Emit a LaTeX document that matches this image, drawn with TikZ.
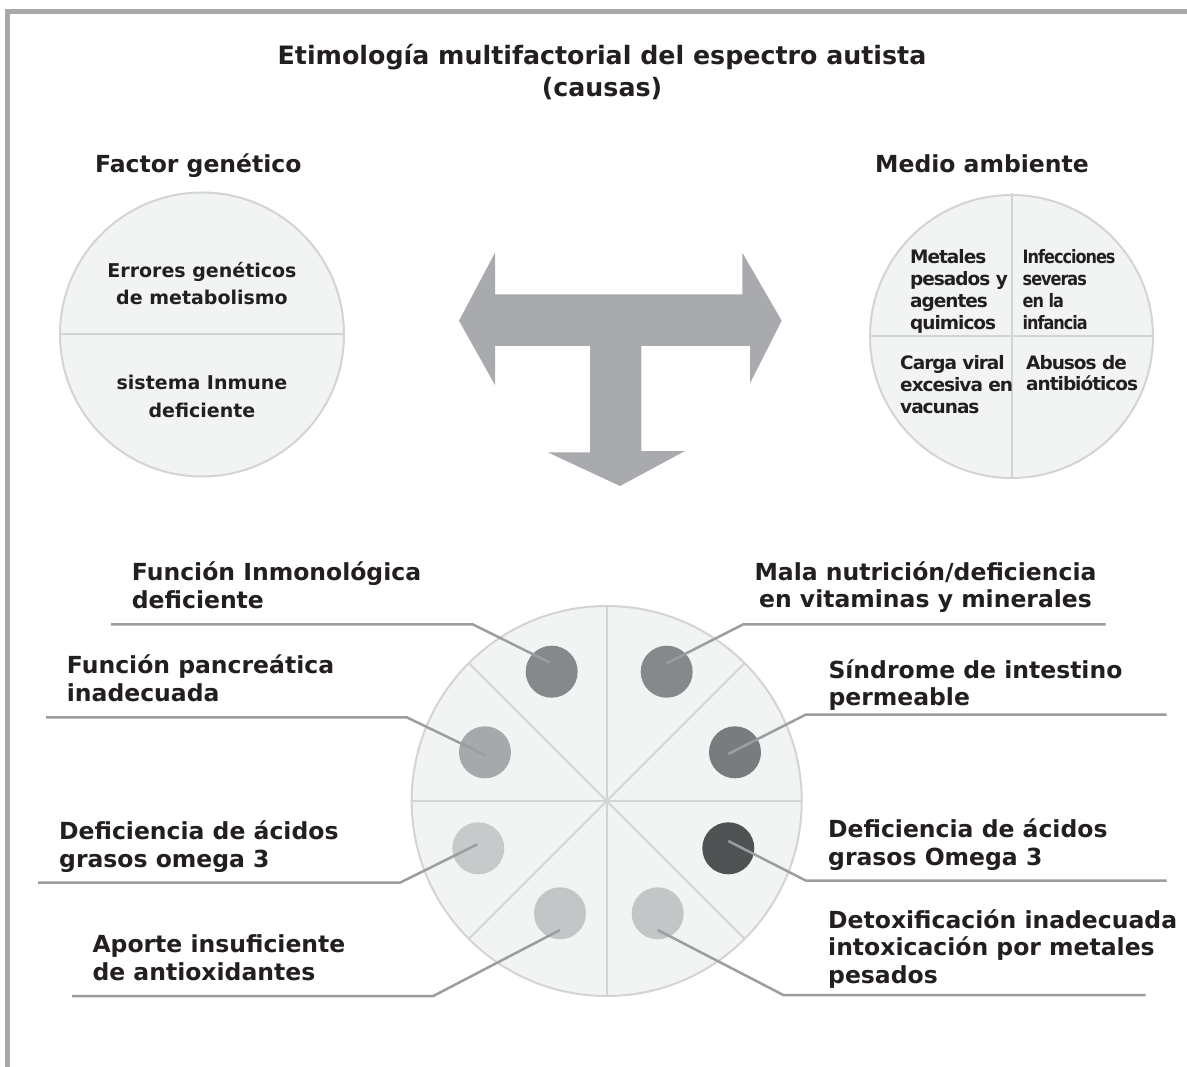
\documentclass[tikz,border=0pt]{standalone}
\usepackage{fontspec}
\setmainfont{DejaVu Sans}
\newfontfamily\quadfont{DejaVu Sans}[LetterSpace=-5.5]
\newfontfamily\quadnarrow{DejaVu Sans}[LetterSpace=-5.5, FakeStretch=0.87]
\definecolor{framec}{HTML}{A7A8AA}
\definecolor{cfill}{HTML}{F2F3F3}
\definecolor{cline}{HTML}{D3D4D5}
\definecolor{arrowc}{HTML}{A9AAAD}
\definecolor{leadc}{HTML}{9C9DA0}
\definecolor{txt}{HTML}{231F20}
\definecolor{dA}{HTML}{87888C}
\definecolor{dB}{HTML}{A7A8AB}
\definecolor{dC}{HTML}{7A7B7F}
\definecolor{dD}{HTML}{C8C9CB}
\definecolor{dE}{HTML}{505153}
\definecolor{dF}{HTML}{C4C5C7}
\tikzset{
  titletxt/.style={text=txt, inner sep=0pt, align=center, anchor=base, font=\bfseries\fontsize{25.3}{32}\selectfont},
  headtxt/.style={text=txt, inner sep=0pt, anchor=base, font=\bfseries\fontsize{23.5}{28}\selectfont},
  intxt/.style={text=txt, inner sep=0pt, align=center, anchor=base, font=\bfseries\fontsize{19}{27.3}\selectfont},
  quadtxt/.style={text=txt, inner sep=0pt, align=left, anchor=base west, font=\quadfont\bfseries\fontsize{18.5}{21.8}\selectfont},
  quadntxt/.style={text=txt, inner sep=0pt, align=left, anchor=base west, font=\quadnarrow\bfseries\fontsize{18.5}{21.8}\selectfont},
  labtxt/.style={text=txt, inner sep=0pt, align=left, anchor=base west, font=\bfseries\fontsize{23.5}{27.6}\selectfont},
  bigcirc/.style={circle, fill=cfill, draw=cline, line width=2pt, inner sep=0pt},
  divline/.style={draw=cline, line width=2pt},
  dotn/.style={circle, minimum size=52pt, inner sep=0pt},
  leader/.style={draw=leadc, line width=2.5pt},
}
\begin{document}
\begin{tikzpicture}[x=1pt,y=-1pt]
\useasboundingbox (0,0) rectangle (1187,1067);
\fill[white] (0,0) rectangle (1187,1067);
% frame
\draw[framec, line width=5pt] (7.5,1067) -- (7.5,12) -- (1187,12);
% title (anchor = baseline of last line)
\node[titletxt] (title) at (602,97) {Etimología multifactorial del espectro autista\\(causas)};
% headings
\node[headtxt] (hgen) at (198.3,172.5) {Factor genético};
\node[headtxt] (hamb) at (982,172.5) {Medio ambiente};
% left circle
\node[bigcirc, minimum size=284pt] (gen) at (202,334.5) {};
\draw[divline] (gen.west) -- (gen.east);
\node[intxt] (g1) at (202,305) {Errores genéticos\\de metabolismo};
\node[intxt] (g2) at (202,417.3) {sistema Inmune\\deficiente};
% right circle
\node[bigcirc, minimum size=283pt] (amb) at (1011.5,336.5) {};
\coordinate (ambtop) at (1011.5,193);
\draw[divline] (ambtop) -- (amb.south);
\draw[divline] (amb.west) -- (amb.east);
\node[quadtxt] (q1) at (910,329.3) {Metales\\pesados y\\agentes\\quimicos};
\node[quadntxt] (q2) at (1022.5,329.3) {Infecciones\\severas\\en la\\infancia};
\node[quadtxt] (q3) at (900,413.3) {Carga viral\\excesiva en\\vacunas};
\node[quadtxt] (q4) at (1026,391) {Abusos de\\antibióticos};
% T arrow
\fill[arrowc] (459,320.7) -- (495,252.7) -- (495,294.3) -- (742.3,294.3) -- (742.3,252.7)
  -- (781.7,320.7) -- (750,383.3) -- (750,346) -- (641.3,346) -- (641.3,451) -- (685,451)
  -- (620,486) -- (547.7,452.3) -- (590,452.3) -- (590,346) -- (495,346) -- (495,385) -- cycle;
% bottom circle
\node[bigcirc, minimum size=390pt] (bc) at (606.7,801) {};
\foreach \a in {0,45,...,315} { \draw[divline] (bc.center) -- +(\a:195); }
% dots
\node[dotn, fill=dA] (d1) at (551.7,671.7) {};
\node[dotn, fill=dA] (d2) at (666.7,671.7) {};
\node[dotn, fill=dB] (d3) at (485,752.3) {};
\node[dotn, fill=dC] (d4) at (735,752.3) {};
\node[dotn, fill=dD] (d5) at (478.3,848.3) {};
\node[dotn, fill=dE] (d6) at (728.3,848.3) {};
\node[dotn, fill=dF] (d7) at (560,913.3) {};
\node[dotn, fill=dF] (d8) at (657.7,913.3) {};
% leader corners and ends
\coordinate (c1) at (472.7,624.3); \coordinate (e1) at (111,624.3);
\coordinate (c2) at (743.3,624.3); \coordinate (e2) at (1105.7,624.3);
\coordinate (c3) at (406.7,717.3); \coordinate (e3) at (46,717.3);
\coordinate (c4) at (806,714.5); \coordinate (e4) at (1166.7,714.5);
\coordinate (c5) at (400,882.7); \coordinate (e5) at (38,882.7);
\coordinate (c6) at (806,880.7); \coordinate (e6) at (1166.7,880.7);
\coordinate (c7) at (433.3,996); \coordinate (e7) at (72,996);
\coordinate (c8) at (783.3,995); \coordinate (e8) at (1145.7,995);
\draw[leader] ([shift={(-1.7,-9)}]d1.center) -- (c1) -- (e1);
\draw[leader] ([shift={(0,-8.4)}]d2.center) -- (c2) -- (e2);
\draw[leader] ([shift={(0,2.7)}]d3.center) -- (c3) -- (e3);
\draw[leader] ([shift={(-6.7,1.7)}]d4.center) -- (c4) -- (e4);
\draw[leader] ([shift={(-1,-4)}]d5.center) -- (c5) -- (e5);
\draw[leader] ([shift={(0,-7.3)}]d6.center) -- (c6) -- (e6);
\draw[leader] ([shift={(0,16.7)}]d7.center) -- (c7) -- (e7);
\draw[leader] ([shift={(0,16.7)}]d8.center) -- (c8) -- (e8);
% labels (anchor = baseline of last line)
\node[labtxt] (l1) at (131.7,608.3) {Función Inmonológica\\deficiente};
\node[labtxt] (l2) at (66.7,701) {Función pancreática\\inadecuada};
\node[labtxt] (l3) at (59,867.3) {Deficiencia de ácidos\\grasos omega 3};
\node[labtxt] (l4) at (92.3,980) {Aporte insuficiente\\de antioxidantes};
\node[labtxt, align=center, anchor=base] (r1) at (925.5,607.7) {Mala nutrición/deficiencia\\en vitaminas y minerales};
\node[labtxt] (r2) at (828.3,705.7) {Síndrome de intestino\\permeable};
\node[labtxt] (r3) at (828,865) {Deficiencia de ácidos\\grasos Omega 3};
\node[labtxt] (r4) at (828,983.3) {Detoxificación inadecuada\\intoxicación por metales\\pesados};
\end{tikzpicture}
\end{document}
